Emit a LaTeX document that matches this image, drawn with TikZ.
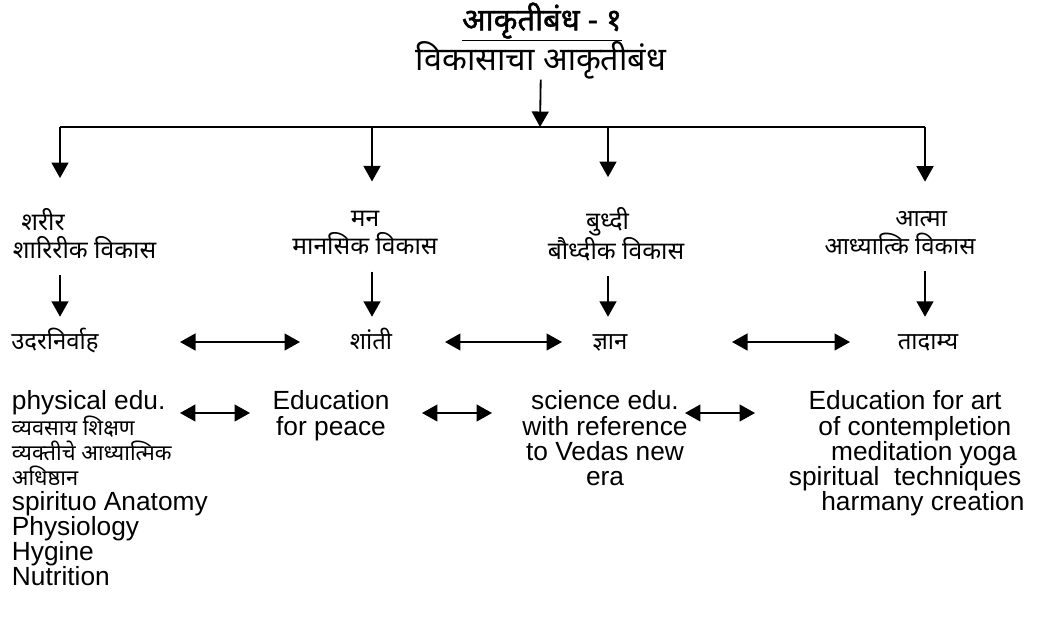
\documentclass[tikz,border=0pt]{standalone}
\usepackage{fontspec}
\setmainfont{Liberation Sans}
\newfontfamily\devfont[Script=Devanagari]{Noto Sans}
\newfontfamily\devbold[Script=Devanagari,FakeBold=1.5]{Noto Sans}
\usetikzlibrary{arrows.meta,calc}

\newcommand{\topstrut}{\rule{0pt}{1.05em}}
\newcommand{\botstrut}{\rule[-0.4em]{0pt}{0pt}}
\tikzset{
  head node/.style={font=\devfont\fontsize{23}{26}\selectfont,align=center,inner sep=0pt},
  dev node/.style={font=\devfont\fontsize{17.5}{20}\selectfont,align=center,inner sep=0pt,
                   execute at begin node=\topstrut,execute at end node=\botstrut},
  small dev/.style={font=\devfont\fontsize{17}{20}\selectfont},
  eng node/.style={font=\fontsize{18.7}{17.8}\selectfont,align=center,inner sep=0pt,anchor=north},
}
\newcommand{\dv}[1]{{\devfont\fontsize{15.5}{17.8}\selectfont #1}}

\begin{document}
\begin{tikzpicture}[x=0.025cm,y=-0.025cm,line width=1.3pt,
                >={Triangle[length=11pt,width=12pt]}]
  \useasboundingbox (0,0) rectangle (1045,637);

  % heading
  \node[head node,font=\devbold\fontsize{22}{24}\selectfont] (title) at (542,22) {\underline{आकृतीबंध - १}};
  \node[head node] (sub) at (541,60) {विकासाचा आकृतीबंध};

  \coordinate (hub) at (540,127);
  \coordinate (t1) at (60,127);
  \coordinate (t2) at (372,127);
  \coordinate (t3) at (608,127);
  \coordinate (t4) at (925,127);

  % second row
  \node[dev node,align=left,anchor=west] (sharir) at (12,238) {\hspace*{6pt}शरीर\\ शारिरीक विकास};
  \node[dev node] (man) at (365,238) {मन\\ मानसिक विकास};
  \node[dev node] (buddhi) at (616,238) {बुध्दी\hspace*{12pt}\\ बौध्दीक विकास};
  \node[dev node,small dev] (atma) at (900,238) {\hspace*{30pt}आत्मा\\ आध्यात्कि विकास};

  % third row
  \node[dev node,small dev] (udar) at (55,342) {उदरनिर्वाह};
  \node[dev node,small dev] (shanti) at (371,342) {शांती};
  \node[dev node,small dev] (dnyan) at (610,342) {ज्ञान};
  \node[dev node,small dev] (tadamya) at (928,342) {तादाम्य};

  % education blocks
  \node[eng node,anchor=north west,align=left] (phys) at (11,390)
    {physical edu.\\ \dv{व्यवसाय शिक्षण}\\ \dv{व्यक्तीचे आध्यात्मिक}\\ \dv{अधिष्ठान}\\
     spirituo Anatomy\\ Physiology\\ Hygine\\ Nutrition};
  \node[eng node] (peace) at (331,390) {Education\\ for peace};
  \node[eng node] (sci) at (605,390) {science edu.\\ with reference\\ to Vedas new\\ era};
  \node[eng node,anchor=north west,align=left] (art) at (788,390)
    {\hspace*{14pt}Education for art\\ \hspace*{21pt}of contempletion\\ \hspace*{30pt}meditation yoga\\
     spiritual\ \ techniques\\ \hspace*{23pt}harmany creation};

  % connectors
  \draw[->] (sub) -- (hub);
  \draw (t1) -- (t4);
  \path[->,shorten >=29*0.025cm]
    (t1) edge (t1 |- sharir.north)
    (t2) edge (t2 |- man.north)
    (t3) edge (t3 |- buddhi.north)
    (t4) edge (t4 |- atma.north);
  \path[->,shorten <=6*0.025cm,shorten >=7*0.025cm]
    (sharir.south -| t1) edge (udar.north -| t1)
    (man.south -| t2) edge (shanti.north -| t2)
    (buddhi.south -| t3) edge (dnyan.north -| t3)
    (atma.south -| t4) edge (tadamya.north -| t4);
  \path[<->]
    (udar.center) edge[shorten <=3.125cm,shorten >=1.775cm] (shanti.center)
    (shanti.center) edge[shorten <=1.85cm,shorten >=1.2cm] (dnyan.center)
    (dnyan.center) edge[shorten <=3.05cm,shorten >=1.95cm] (tadamya.center);
  \draw[<->] ($(phys.north west)+(169,23)$) -- ($(peace.north)+(-81,23)$);
  \draw[<->] ($(peace.north)+(91,23)$) -- ($(sci.north)+(-113,23)$);
  \draw[<->] ($(sci.north)+(80,23)$) -- ($(art.north west)+(-33,23)$);
\end{tikzpicture}
\end{document}
